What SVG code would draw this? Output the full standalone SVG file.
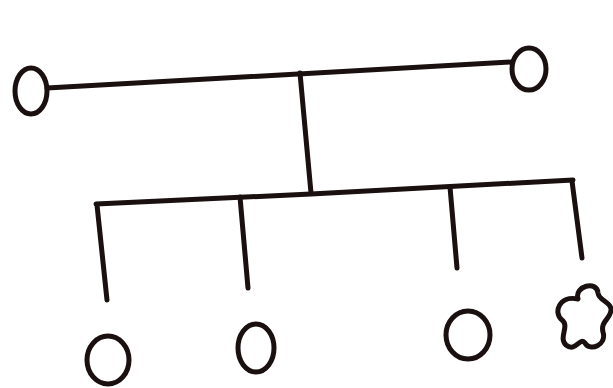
<svg xmlns="http://www.w3.org/2000/svg" width="613" height="388" viewBox="0 0 613 388">
<style>
.s{fill:none;stroke:#1a1010;stroke-width:5;stroke-linecap:round;stroke-linejoin:round}
</style>
<rect width="613" height="388" fill="#ffffff"/>
<g id="connectors">
<path class="s" d="M47 88 L512 62"/>
<path class="s" d="M300 73 L311 193"/>
<path class="s" d="M96 204 L311 194 L573 180"/>
<path class="s" d="M97 205 L107 300"/>
<path class="s" d="M240 197 L248 288"/>
<path class="s" d="M450 187 L457 268"/>
<path class="s" d="M572 181 L582 258"/>
</g>
<g id="parent-left"><ellipse class="s" cx="31" cy="91" rx="16" ry="23"/></g>
<g id="parent-right"><ellipse class="s" cx="529" cy="69" rx="17" ry="21"/></g>
<g id="child-1"><ellipse class="s" cx="108" cy="360" rx="21" ry="24"/></g>
<g id="child-2"><ellipse class="s" cx="256" cy="348" rx="18" ry="24"/></g>
<g id="child-3"><ellipse class="s" cx="468" cy="335" rx="22" ry="24"/></g>
<g id="child-4"><path class="s" d="M578 299 C574 286 597 280 598 293 C599 301 610 301 611 309 C612 318 600 321 603 332 C607 345 590 352 585 343 C580 336 576 353 566 345 C558 338 570 326 562 320 C553 313 559 295 578 299 Z"/></g>
</svg>
